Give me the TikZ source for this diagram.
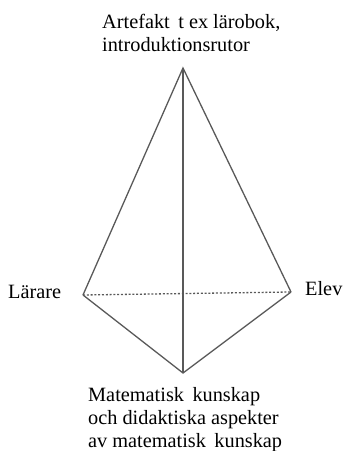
\documentclass[tikz,border=0pt]{standalone}
\usepackage{fontspec}
\setmainfont{Liberation Serif}
\usetikzlibrary{positioning}

\begin{document}
\begin{tikzpicture}[
  x=1pt,y=1pt,
  every node/.style={font=\fontsize{20.3}{23.5}\selectfont,inner sep=0pt},
  lbl/.style={align=left},
  edge/.style={draw=black!65,line width=1.3pt},
  hidden/.style={draw=black!65,line width=1.3pt,dash pattern=on 2pt off 1.8pt}
]
\useasboundingbox (0,0) rectangle (343,451);
\coordinate (artefakt) at (183,383);
\coordinate (larare) at (83,156);
\coordinate (elev) at (291,159);
\coordinate (kunskap) at (183,78);
\node[lbl,anchor=base west] (artlbl) at (102,399) {Artefakt\, t ex lärobok,\\introduktionsrutor};
\node[anchor=base west] (larlbl) at (8,152) {Lärare};
\node[anchor=base west] (elevlbl) at (305,155) {Elev};
\node[lbl,anchor=base west] (kunlbl) at (88,3) {Matematisk\, kunskap\\och didaktiska aspekter\\av matematisk\, kunskap};
\draw[edge] (larare)--(artefakt)--(elev);
\draw[edge] (artefakt)--(kunskap);
\draw[edge] (larare)--(kunskap)--(elev);
\draw[hidden] (larare)--(elev);
\end{tikzpicture}
\end{document}
